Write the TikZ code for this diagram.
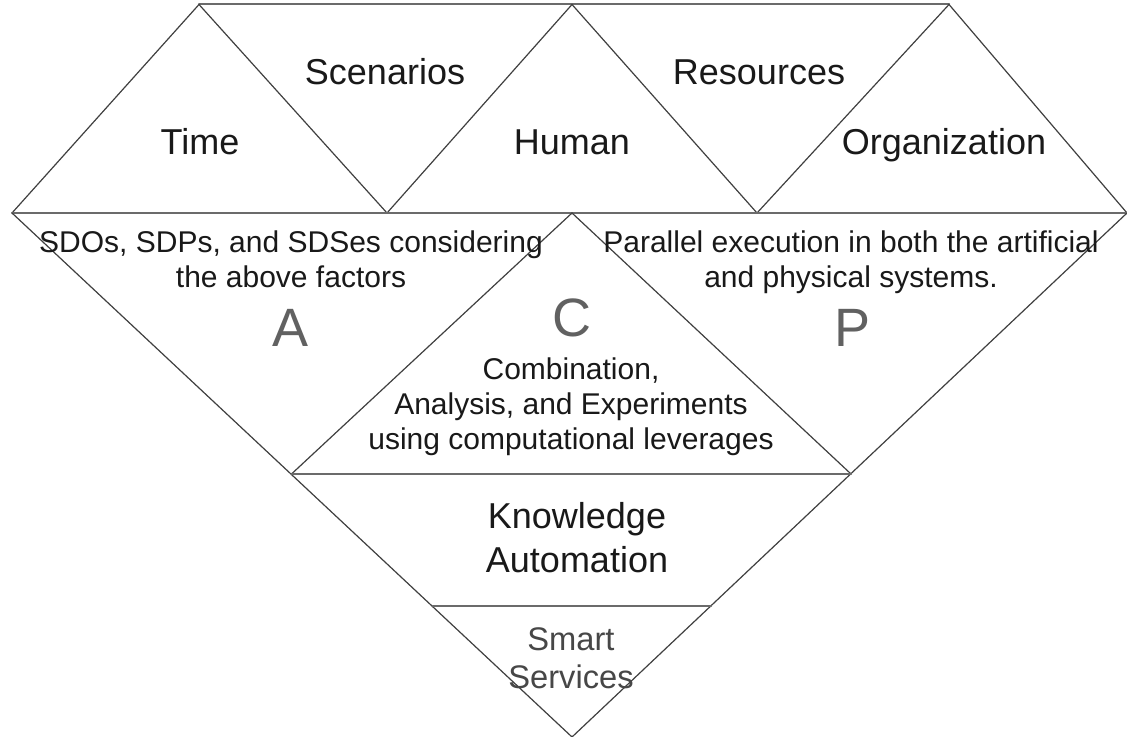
\documentclass[tikz,border=0pt]{standalone}
\usepackage{fontspec}
\setmainfont{Liberation Sans}
\begin{document}
\begin{tikzpicture}[x=0.75pt,y=-0.75pt,
  diag/.style={draw=black!75, line width=0.9pt, line cap=round},
  horiz/.style={draw=black!58, line width=1.5pt, line cap=round},
  toplbl/.style={font=\fontsize{27}{33}\selectfont, text=black!90, align=center, anchor=base, inner sep=0pt},
  desclbl/.style={font=\fontsize{22.5}{26.25}\selectfont, text=black!90, align=center, anchor=base, inner sep=0pt},
  letterlbl/.style={font=\fontsize{40.5}{45}\selectfont, text=black!62, anchor=base, inner sep=0pt},
  svclbl/.style={font=\fontsize{24.5}{28.5}\selectfont, text=black!72, align=center, anchor=base, inner sep=0pt}
]
\useasboundingbox (0,0) rectangle (1127,737);
\fill[white] (0,0) rectangle (1127,737);
% vertices
\coordinate (t1) at (199,4.5);
\coordinate (t2) at (572,4.5);
\coordinate (t3) at (949,4.5);
\coordinate (m0) at (12,213);
\coordinate (m1) at (387,213);
\coordinate (m2) at (757,213);
\coordinate (m3) at (1127,213);
\coordinate (ca) at (572,213);
\coordinate (b1) at (291.5,474);
\coordinate (b2) at (851,474);
\coordinate (s1) at (432.5,606);
\coordinate (s2) at (711,606);
\coordinate (ap) at (572,737);
% top row
\draw[horiz] (t1) -- (t3);
\draw[diag] (m0) -- (t1) -- (m1) -- (t2) -- (m2) -- (t3) -- (m3);
\draw[horiz] (m0) -- (m3);
% outer funnel
\draw[diag] (m0) -- (ap) -- (m3);
% C triangle
\draw[diag] (b1) -- (ca) -- (b2);
\draw[horiz] (b1) -- (b2);
\draw[horiz] (s1) -- (s2);
% labels
\node[toplbl] (time) at (200,155) {Time};
\node[toplbl] (scen) at (385,85) {Scenarios};
\node[toplbl] (human) at (572,155) {Human};
\node[toplbl] (res) at (759,85) {Resources};
\node[toplbl] (org) at (944,155) {Organization};
\node[desclbl] (atext) at (291,288) {SDOs, SDPs, and SDSes considering\\the above factors};
\node[desclbl] (ptext) at (851,288) {Parallel execution in both the artificial\\and physical systems.};
\node[letterlbl] (aletter) at (291,347) {A};
\node[letterlbl] (cletter) at (572,337) {C};
\node[letterlbl] (pletter) at (852,347) {P};
\node[desclbl] (ctext) at (571,450) {Combination,\\Analysis, and Experiments\\using computational leverages};
\node[font=\fontsize{27}{33}\selectfont, text=black!90, align=center, anchor=base, inner sep=0pt] (ka) at (577,572) {Knowledge\\Automation};
\node[svclbl] (ss) at (571,688) {Smart\\Services};
\end{tikzpicture}
\end{document}
